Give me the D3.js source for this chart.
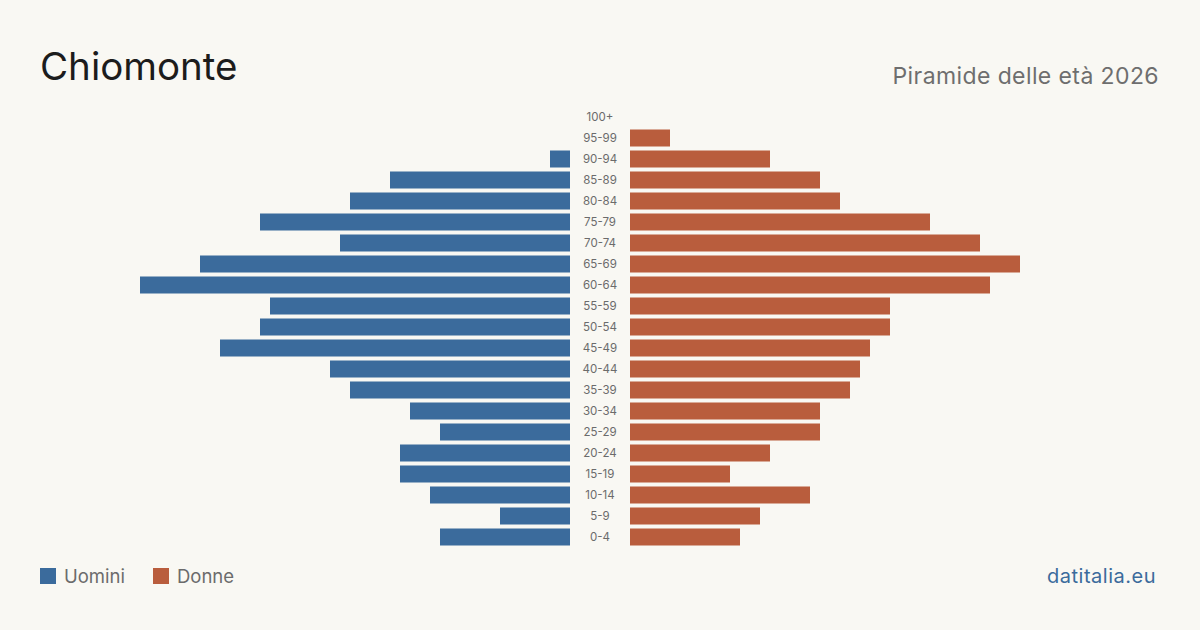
<!DOCTYPE html>
<html><head><meta charset="utf-8">
<script src="https://cdn.jsdelivr.net/npm/d3@7"></script>
<style>
html,body{margin:0;padding:0;background:#f9f8f3;}
svg{display:block;font-family:Inter,"Open Sans",sans-serif;}
</style></head>
<body><svg id="c" width="1200" height="630"></svg>
<script>
const ageGroups = ["100+","95-99","90-94","85-89","80-84","75-79","70-74","65-69","60-64","55-59","50-54","45-49","40-44","35-39","30-34","25-29","20-24","15-19","10-14","5-9","0-4"];
const men   = [0,0,2,18,22,31,23,37,43,30,31,35,24,22,16,13,17,17,14,7,13];
const women = [0,4,14,19,21,30,35,39,36,26,26,24,23,22,19,19,14,10,18,13,11];
const title = "Chiomonte";
const subtitle = "Piramide delle età 2026";
const legendLabels = ["Uomini","Donne"];
const colors = ["#3b6b9c","#b95d3d"];

const svg = d3.select("#c");
svg.append("rect").attr("width",1200).attr("height",630).attr("fill","#f9f8f3");

const maxV = d3.max(men.concat(women));
const y = d3.scaleBand().domain(ageGroups).range([106.5,547.5]).paddingInner(4/21).paddingOuter(2/21);
const xL = d3.scaleLinear().domain([0,maxV]).range([570,570-430]);
const xR = d3.scaleLinear().domain([0,maxV]).range([630,630+430]);

svg.append("g").selectAll("rect").data(ageGroups).join("rect")
  .attr("x",(d,i)=>xL(men[i])).attr("width",(d,i)=>xL(0)-xL(men[i]))
  .attr("y",d=>y(d)).attr("height",y.bandwidth()).attr("fill",colors[0]);
svg.append("g").selectAll("rect").data(ageGroups).join("rect")
  .attr("x",xR(0)).attr("width",(d,i)=>xR(women[i])-xR(0))
  .attr("y",d=>y(d)).attr("height",y.bandwidth()).attr("fill",colors[1]);

svg.append("g").selectAll("text").data(ageGroups).join("text")
  .attr("x",600).attr("y",d=>y(d)+y.bandwidth()/2).attr("dy","0.35em")
  .attr("text-anchor","middle").attr("font-size",11.5).attr("fill","#6b6b6b").text(d=>d);

svg.append("text").attr("x",40).attr("y",80).attr("font-size",38.5).attr("fill","#1c1c1c").text(title);
svg.append("text").attr("x",1159).attr("y",84).attr("text-anchor","end").attr("font-size",23).attr("letter-spacing",0.4).attr("fill","#6e6e6e").text(subtitle);

const lg = svg.append("g");
const lx = [40,153];
legendLabels.forEach((l,i)=>{
  lg.append("rect").attr("x",lx[i]).attr("y",568).attr("width",16).attr("height",16).attr("fill",colors[i]);
  lg.append("text").attr("x",lx[i]+24).attr("y",583).attr("font-size",18.5).attr("fill","#6b6b6b").text(l);
});
svg.append("text").attr("x",1156).attr("y",583).attr("text-anchor","end").attr("font-size",20).attr("letter-spacing",0.5).attr("fill","#3b6b9c").text("datitalia.eu");
</script></body></html>
